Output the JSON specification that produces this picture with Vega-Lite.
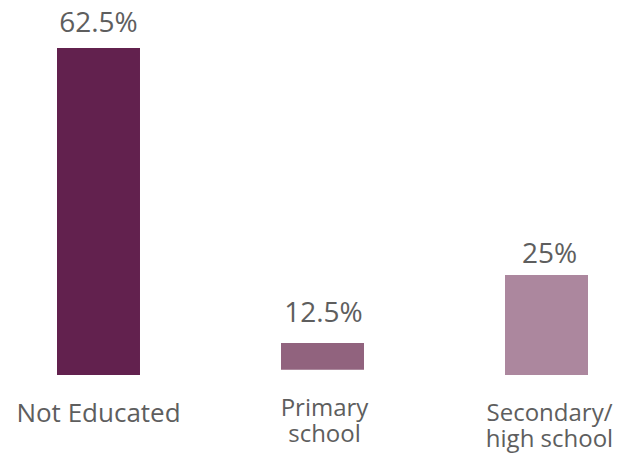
{
  "$schema": "https://vega.github.io/schema/vega-lite/v6.json",
  "width": 531,
  "height": 327,
  "autosize": {"type": "none"},
  "padding": {"left": 57, "top": 48, "right": 45, "bottom": 78},
  "background": "white",
  "config": {"view": {"stroke": null}, "text": {"font": "Open Sans", "color": "#5e5e5e"}},
  "data": {
    "values": [
      {"category": "Not Educated", "label": "Not Educated", "value": 62.5, "text": "62.5%", "bar_low": 0, "bar_high": 62.5},
      {"category": "Primary school", "label": "Primary\nschool", "value": 12.5, "text": "12.5%", "bar_low": 1.0, "bar_high": 6.1},
      {"category": "Secondary/ high school", "label": "Secondary/\nhigh school", "value": 25, "text": "25%", "bar_low": 0, "bar_high": 19.1}
    ]
  },
  "encoding": {
    "x": {"field": "category", "type": "nominal", "sort": null, "axis": null,
          "scale": {"paddingInner": 0.6295, "paddingOuter": 0}}
  },
  "layer": [
    {
      "mark": {"type": "bar"},
      "encoding": {
        "y": {"field": "bar_low", "type": "quantitative", "axis": null, "scale": {"domain": [0, 62.5], "nice": false, "zero": true}},
        "y2": {"field": "bar_high"},
        "color": {"field": "category", "type": "nominal", "legend": null, "sort": null,
                  "scale": {"range": ["#62214E", "#91637E", "#AC879E"]}}
      }
    },
    {
      "transform": [{"filter": "datum.category === 'Not Educated'"}],
      "mark": {"type": "text", "baseline": "alphabetic", "dy": -16, "fontSize": 28},
      "encoding": {"y": {"field": "bar_high", "type": "quantitative"}, "text": {"field": "text"}}
    },
    {
      "transform": [{"filter": "datum.category === 'Primary school'"}],
      "mark": {"type": "text", "baseline": "alphabetic", "dy": -21, "dx": 1, "fontSize": 28},
      "encoding": {"y": {"field": "bar_high", "type": "quantitative"}, "text": {"field": "text"}}
    },
    {
      "transform": [{"filter": "datum.category === 'Secondary/ high school'"}],
      "mark": {"type": "text", "baseline": "alphabetic", "dy": -12, "dx": 3, "fontSize": 28},
      "encoding": {"y": {"field": "bar_high", "type": "quantitative"}, "text": {"field": "text"}}
    },
    {
      "transform": [{"filter": "datum.category === 'Not Educated'"}],
      "mark": {"type": "text", "baseline": "alphabetic", "dy": 47, "fontSize": 26},
      "encoding": {"y": {"datum": 0, "type": "quantitative"}, "text": {"field": "label"}}
    },
    {
      "transform": [{"filter": "datum.category === 'Primary school'"}],
      "mark": {"type": "text", "baseline": "alphabetic", "dy": 41, "dx": 2, "fontSize": 24, "lineBreak": "\n", "lineHeight": 26},
      "encoding": {"y": {"datum": 0, "type": "quantitative"}, "text": {"field": "label"}}
    },
    {
      "transform": [{"filter": "datum.category === 'Secondary/ high school'"}],
      "mark": {"type": "text", "baseline": "alphabetic", "dy": 46, "dx": 3, "fontSize": 24, "lineBreak": "\n", "lineHeight": 26},
      "encoding": {"y": {"datum": 0, "type": "quantitative"}, "text": {"field": "label"}}
    }
  ]
}
